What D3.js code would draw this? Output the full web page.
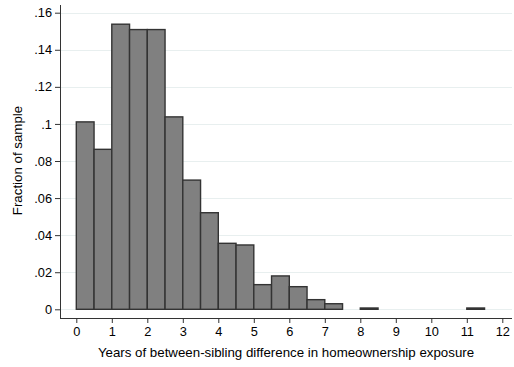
<!DOCTYPE html>
<html lang="en">
<head>
<meta charset="UTF-8">
<title>Sibling homeownership exposure histogram</title>
<script src="https://d3js.org/d3.v7.min.js"></script>
<style>
    body { margin: 0; background: #fff; }
    svg { display: block; font-family: "Liberation Sans", Arial, sans-serif; }
    .grid line { stroke: #e8efef; stroke-width: 1; }
    .bar { fill: #808080; stroke: #333; stroke-width: 1.4; }
    .axis path, .axis line { stroke: #333; }
    .axis text { fill: #000; font-size: 12.8px; }
</style>
</head>
<body>
<div id="chart"></div>
<script>
// bin starts (width 0.5 years) and fraction of sample in each bin
var binStarts = [0, 0.5, 1, 1.5, 2, 2.5, 3, 3.5, 4, 4.5, 5, 5.5, 6, 6.5, 7, 8, 11];
var fractions = [0.1011, 0.0863, 0.1538, 0.1509, 0.1509, 0.1038, 0.0697, 0.0521, 0.0356, 0.0347,
                 0.0133, 0.0180, 0.0122, 0.0052, 0.0030, 0.0007, 0.0007];
var binWidth = 0.5;
var xTicks = [0, 1, 2, 3, 4, 5, 6, 7, 8, 9, 10, 11, 12];
var yTicks = [0, 0.02, 0.04, 0.06, 0.08, 0.1, 0.12, 0.14, 0.16];

var width = 514, height = 367;

var svg = d3.select("#chart").append("svg")
    .attr("width", width)
    .attr("height", height);

var x = d3.scaleLinear().domain([0, 12]).range([76.3, 502.3]);
var y = d3.scaleLinear().domain([0, 0.16]).range([309.3, 12.7]);

// horizontal grid lines
svg.append("g")
    .attr("class", "grid")
    .selectAll("line")
    .data(yTicks)
    .enter().append("line")
    .attr("x1", 60)
    .attr("x2", 512)
    .attr("y1", function(d) { return Math.round(y(d)) + 0.5; })
    .attr("y2", function(d) { return Math.round(y(d)) + 0.5; });

// bars
svg.selectAll("rect.bar")
    .data(binStarts)
    .enter().append("rect")
    .attr("class", "bar")
    .attr("x", function(d) { return x(d); })
    .attr("width", function(d) { return x(d + binWidth) - x(d); })
    .attr("y", function(d, i) { return y(fractions[i]); })
    .attr("height", function(d, i) { return y(0) - y(fractions[i]); });

// y axis
var yAxis = d3.axisLeft(y)
    .tickValues(yTicks)
    .tickSize(5)
    .tickPadding(3)
    .tickFormat(function(d) { return d === 0 ? "0" : d3.format(".2~f")(d).replace(/^0/, ""); });

var gy = svg.append("g")
    .attr("class", "axis")
    .attr("transform", "translate(60,0)")
    .call(yAxis);
gy.select(".domain").attr("d", "M0.5,5V318");

// x axis
var xAxis = d3.axisBottom(x)
    .tickValues(xTicks)
    .tickSize(5)
    .tickPadding(3.5)
    .tickFormat(d3.format("d"));

var gx = svg.append("g")
    .attr("class", "axis")
    .attr("transform", "translate(0,318)")
    .call(xAxis);
gx.select(".domain").attr("d", "M60,0.5H512");

// axis titles
svg.append("text")
    .attr("x", 286)
    .attr("y", 356.5)
    .attr("text-anchor", "middle")
    .style("font-size", "13.3px")
    .text("Years of between-sibling difference in homeownership exposure");

svg.append("text")
    .attr("transform", "translate(22,160.5) rotate(-90)")
    .attr("text-anchor", "middle")
    .style("font-size", "13.3px")
    .text("Fraction of sample");
</script>
</body>
</html>
